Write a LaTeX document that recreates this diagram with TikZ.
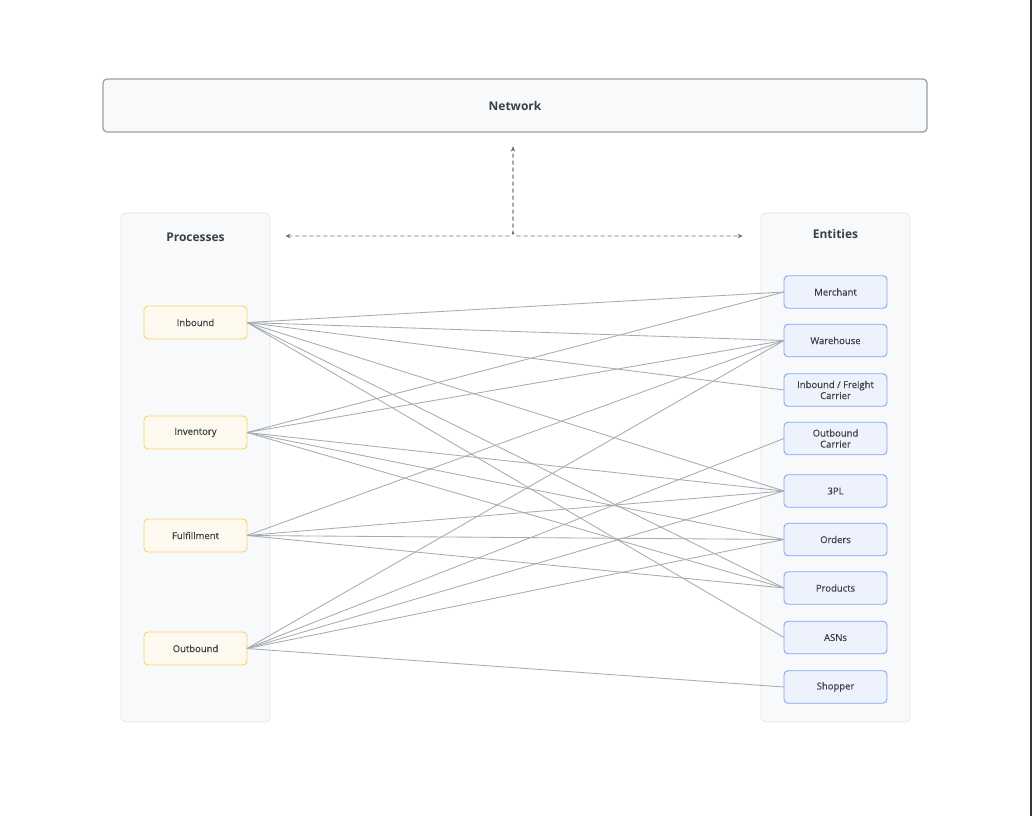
\documentclass[tikz,border=0pt]{standalone}
\usepackage{fontspec}
\setmainfont{Open Sans}
\newfontface\medfont{Open Sans}[FakeBold=0.35]
\usepackage{xcolor}
\usetikzlibrary{arrows.meta, positioning, calc}

\definecolor{netfill}{HTML}{F8F9FA}
\definecolor{netdraw}{HTML}{9AA0A6}
\definecolor{panelfill}{HTML}{F8F9FA}
\definecolor{paneldraw}{HTML}{E3E5E8}
\definecolor{procfill}{HTML}{FDF9EE}
\definecolor{procdraw}{HTML}{FBD264}
\definecolor{entfill}{HTML}{EEF2FC}
\definecolor{entdraw}{HTML}{7FA8F5}
\definecolor{linkgray}{HTML}{A7ABB2}
\definecolor{txt}{HTML}{3C4043}
\definecolor{arrgray}{HTML}{6B6F75}

\begin{document}
\begin{tikzpicture}[
    x=1pt, y=-1pt,
    node distance=16pt,
    net/.style={rectangle, rounded corners=4pt, draw=netdraw, line width=1.3pt, fill=netfill, minimum width=824pt, minimum height=53pt, font=\fontsize{12}{14}\selectfont\bfseries, text=txt},
    panel/.style={rectangle, rounded corners=5pt, draw=paneldraw, line width=0.8pt, fill=panelfill, minimum width=149pt, minimum height=509pt},
    ptitle/.style={font=\fontsize{12}{14}\selectfont\bfseries, text=txt},
    proc/.style={rectangle, rounded corners=4pt, draw=procdraw, line width=0.9pt, fill=procfill, minimum width=103pt, minimum height=33pt, inner sep=1pt, outer sep=0pt, align=center, font=\fontsize{9.5}{11}\selectfont\medfont, text=txt},
    ent/.style={rectangle, rounded corners=4pt, draw=entdraw, line width=0.9pt, fill=entfill, minimum width=103pt, minimum height=32.5pt, inner sep=1pt, outer sep=0pt, align=center, font=\fontsize{9.5}{11}\selectfont\medfont, text=txt},
    link/.style={draw=linkgray, line width=0.85pt},
    dasharr/.style={draw=arrgray, line width=0.9pt, dash pattern=on 4pt off 3pt, rounded corners=4pt},
  ]
    \useasboundingbox[fill=white] (0,0) rectangle (1032,816);

    % Network
    \node[net] (net) at (515,105.5) {Network};

    % Panels
    \node[panel] (procpanel) at (195.5,467.5) {};
    \node[ptitle] (proctitle) at (195.5,237) {Processes};
    \node[panel] (entpanel) at (835.5,467.5) {};
    \node[ptitle] (enttitle) at (835.5,234) {Entities};

    % Processes
    \node[proc] (inbound) at (195.5,322.5) {Inbound};
    \node[proc] (inventory) at (195.5,432.5) {Inventory};
    \node[proc] (fulfillment) at (195.5,535.5) {Fulfillment};
    \node[proc] (outbound) at (195.5,648.5) {Outbound};

    % Entities
    \node[ent] (merchant) at (835.5,292) {Merchant};
    \node[ent, below=of merchant] (warehouse) {Warehouse};
    \node[ent, below=17pt of warehouse] (ifc) {Inbound / Freight\\Carrier};
    \node[ent, below=of ifc] (oc) {Outbound\\Carrier};
    \node[ent, below=20pt of oc] (tpl) {3PL};
    \node[ent, below=of tpl] (orders) {Orders};
    \node[ent, below=of orders] (products) {Products};
    \node[ent, below=17pt of products] (asns) {ASNs};
    \node[ent, below=17pt of asns] (shopper) {Shopper};

    % Network arrows
    \coordinate (junc) at (513,236);
    \coordinate (uptip) at ([yshift=-14pt]net.south -| junc);
    \coordinate (lefttip) at ([xshift=15pt]procpanel.east |- junc);
    \coordinate (righttip) at ([xshift=-18pt]entpanel.west |- junc);
    \draw[dasharr, {Stealth[length=5pt,width=4.5pt]}-{Stealth[length=5pt,width=4.5pt]}] (lefttip) -- (junc) -- (uptip);
    \draw[dasharr, -{Stealth[length=5pt,width=4.5pt]}] (uptip) -- (junc) -- (righttip);

    % Links
    \foreach \a/\b in {inbound/merchant, inbound/warehouse, inbound/ifc, inbound/tpl, inbound/products, inbound/asns,
        inventory/merchant, inventory/warehouse, inventory/tpl, inventory/orders, inventory/products,
        fulfillment/warehouse, fulfillment/tpl, fulfillment/orders, fulfillment/products,
        outbound/warehouse, outbound/oc, outbound/tpl, outbound/orders, outbound/shopper}
      \draw[link] (\a.east) -- (\b.west);

    % right edge
    \draw[line width=1.5pt, color={rgb,255:red,53;green,51;blue,63}] (1031.2,0) -- (1031.2,816);
  \end{tikzpicture}
\end{document}
